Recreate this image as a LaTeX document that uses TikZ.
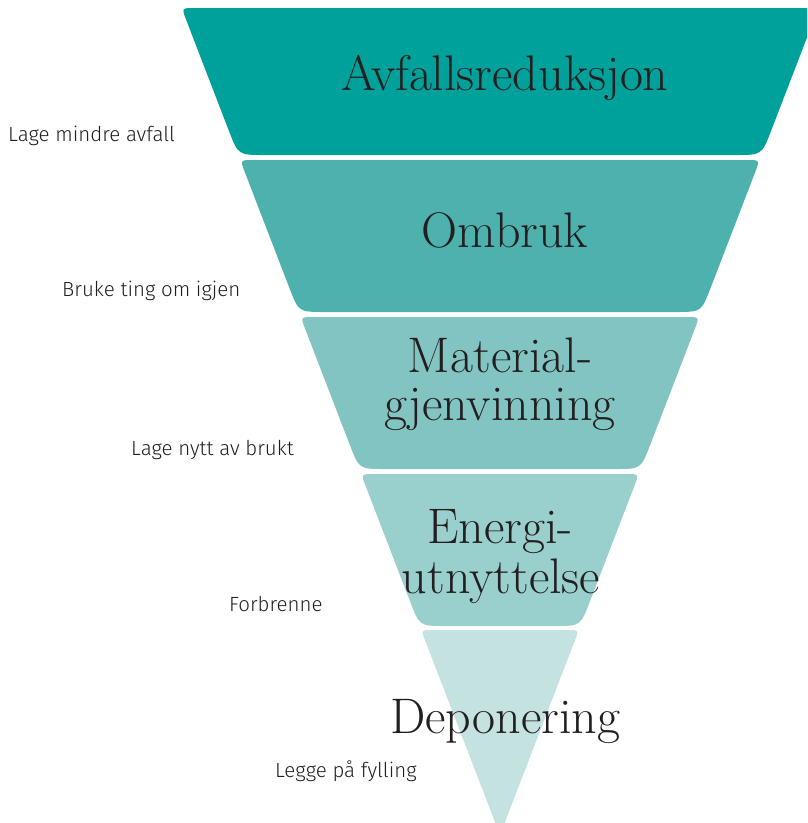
\documentclass[tikz,border=0pt]{standalone}
\usepackage{fontspec}
\usetikzlibrary{calc}
\newfontfamily\lblfont{Fira Sans Light}
\definecolor{cA}{HTML}{00A19A}
\definecolor{cB}{HTML}{4DB2AE}
\definecolor{cC}{HTML}{82C4C1}
\definecolor{cD}{HTML}{99CFCC}
\definecolor{cE}{HTML}{C3E2E0}
\definecolor{txt}{HTML}{231F20}
\tikzset{
  mainlbl/.style={anchor=base, inner sep=0pt, text=txt, font=\fontsize{50}{50}\selectfont},
  notelbl/.style={anchor=base west, inner sep=0pt, text=txt, font=\lblfont\fontsize{20.5}{20.5}\selectfont},
}
\newcommand\funnellayer[5]{%
  \pgfmathsetmacro\xlt{500-0.385*(835-#2)}%
  \pgfmathsetmacro\xrt{500+0.385*(835-#2)}%
  \pgfmathsetmacro\xlb{500-0.385*(835-#3)}%
  \pgfmathsetmacro\xrb{500+0.385*(835-#3)}%
  \coordinate (TL) at (\xlt,#2);
  \coordinate (TR) at (\xrt,#2);
  \coordinate (BR) at (\xrb,#3);
  \coordinate (BL) at (\xlb,#3);
  \fill[#1] ($(TL)!#4pt!(TR)$) -- ($(TR)!#4pt!(TL)$) .. controls (TR) .. ($(TR)!#4pt!(BR)$)
    -- ($(BR)!#5pt!(TR)$) .. controls (BR) .. ($(BR)!#5pt!(BL)$)
    -- ($(BL)!#5pt!(BR)$) .. controls (BL) .. ($(BL)!#5pt!(TL)$)
    -- ($(TL)!#4pt!(BL)$) .. controls (TL) .. ($(TL)!#4pt!(TR)$) -- cycle;
}
\begin{document}
\begin{tikzpicture}[x=1pt,y=-1pt]
\useasboundingbox (0,0) rectangle (807,823);
\clip (0,0) rectangle (807,823);
\funnellayer{cA}{8}{155}{13}{26}
\funnellayer{cB}{160}{312}{13}{26}
\funnellayer{cC}{317}{469}{13}{26}
\funnellayer{cD}{474}{626}{13}{26}
% bottom triangle
\pgfmathsetmacro\xl{500-0.385*(835-630)}
\pgfmathsetmacro\xr{500+0.385*(835-630)}
\coordinate (TL) at (\xl,630);
\coordinate (TR) at (\xr,630);
\coordinate (AP) at (500,835);
\fill[cE] ($(TL)!12pt!(TR)$) -- ($(TR)!12pt!(TL)$) .. controls (TR) .. ($(TR)!12pt!(AP)$)
  -- ($(AP)!18pt!(TR)$) .. controls (AP) .. ($(AP)!18pt!(TL)$)
  -- ($(TL)!12pt!(AP)$) .. controls (TL) .. ($(TL)!12pt!(TR)$) -- cycle;

\node[mainlbl] (avf) at (505,90) {Avfallsreduksjon};
\node[mainlbl] (omb) at (505,247) {Ombruk};
\node[mainlbl] (mat1) at (500,372) {Material-};
\node[mainlbl] (mat2) at (500,420) {gjenvinning};
\node[mainlbl] (ene1) at (500,543) {Energi-};
\node[mainlbl] (ene2) at (501,593) {utnyttelse};
\node[mainlbl] (dep) at (505,733) {Deponering};

\node[notelbl] (n1) at (8,141) {Lage mindre avfall};
\node[notelbl] (n2) at (62,296) {Bruke ting om igjen};
\node[notelbl] (n3) at (131,455) {Lage nytt av brukt};
\node[notelbl] (n4) at (229,611) {Forbrenne};
\node[notelbl] (n5) at (275,777) {Legge på fylling};
\end{tikzpicture}
\end{document}
